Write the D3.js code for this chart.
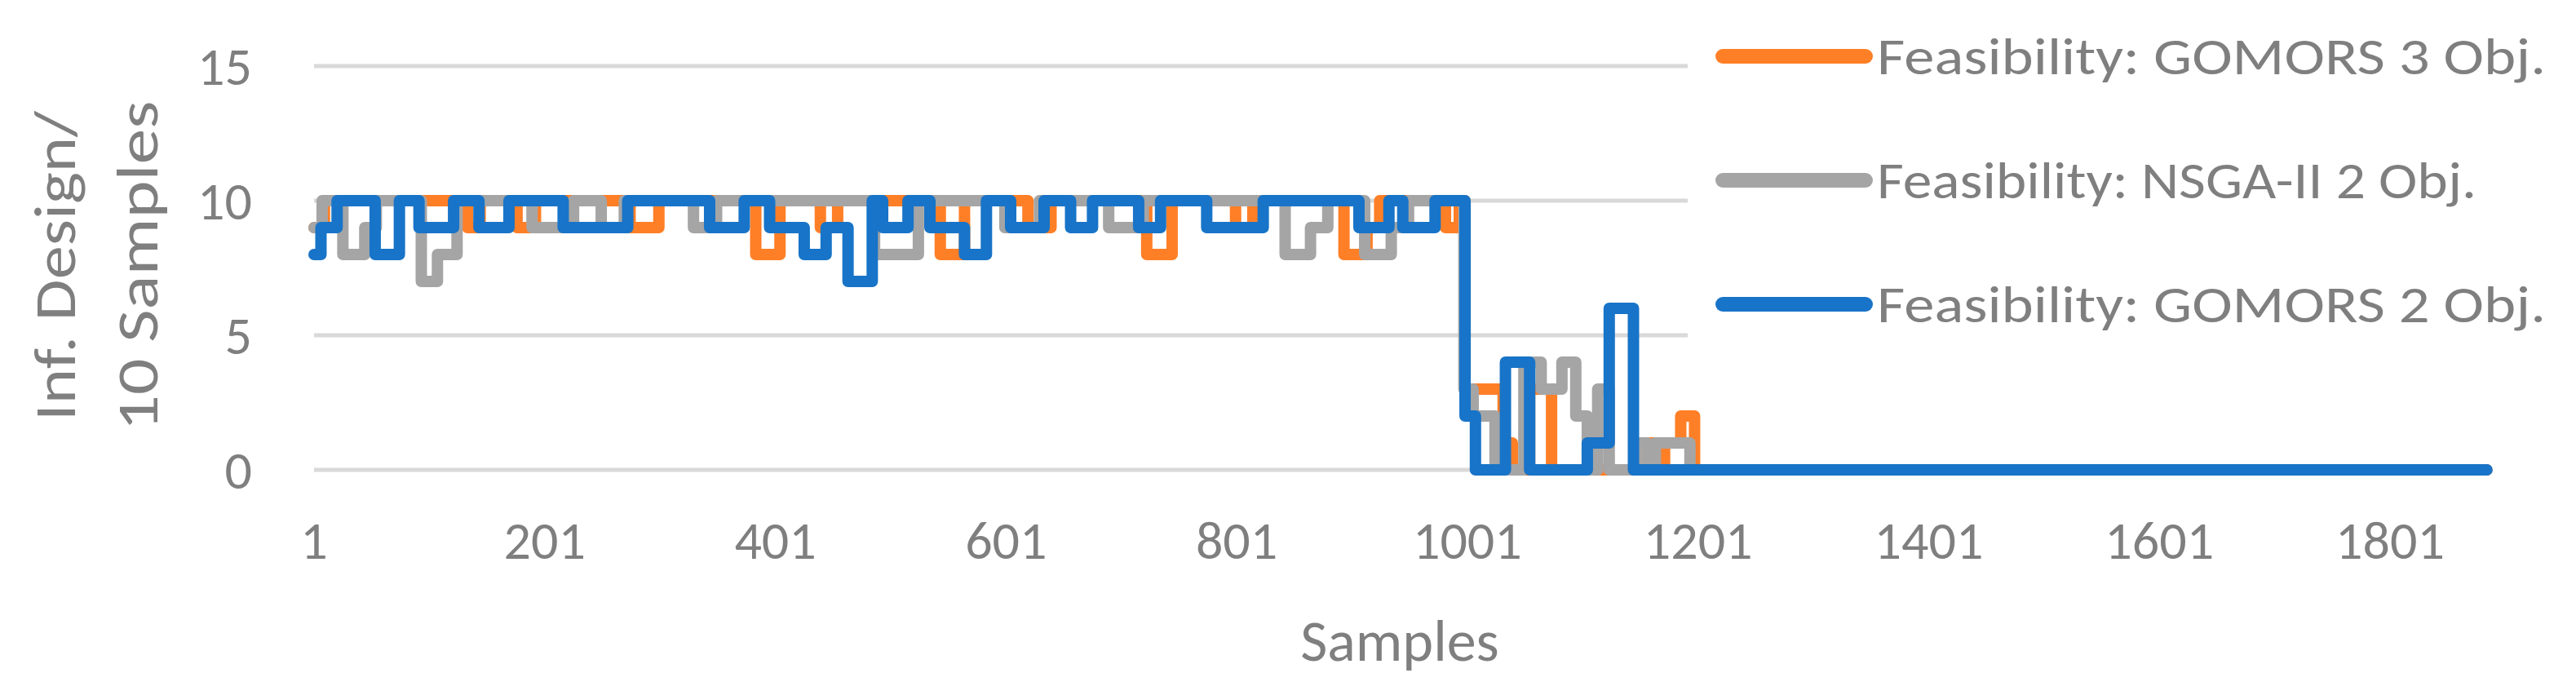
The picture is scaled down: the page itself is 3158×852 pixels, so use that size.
<!DOCTYPE html>
<html>
<head>
<meta charset="utf-8">
<script src="https://cdn.jsdelivr.net/npm/d3@7"></script>
<style>
  body { margin: 0; background: #fff; }
  text { font-family: Carlito, "Open Sans", sans-serif; fill: #7f7f7f; }
</style>
</head>
<body>
<svg id="chart" width="3158" height="852"></svg>
<script>
  // run-length series: [first sample, value]
  const gomors3Runs = [[1,9],[10,10],[134,9],[145,10],[177,9],[193,10],[275,9],[300,10],[384,8],[405,10],
    [440,9],[455,10],[544,8],[565,10],[620,9],[640,10],[723,8],[745,10],[800,9],[815,10],[894,8],[914,9],
    [925,10],[982,9],[994,10],[999,3],[1032,1],[1040,0],[1055,3],[1074,0],[1147,1],[1166,0],[1172,1],
    [1186,2],[1198,0]];
  const nsga2Runs = [[1,9],[8,10],[26,8],[45,9],[55,10],[94,7],[108,8],[125,10],[190,9],[226,10],[250,9],
    [270,10],[330,9],[350,10],[487,8],[525,10],[600,9],[630,10],[690,9],[720,10],[843,8],[865,9],[880,10],
    [912,8],[935,9],[950,10],[998,3],[1006,2],[1025,0],[1050,4],[1065,3],[1083,4],[1095,2],[1105,0],
    [1114,3],[1124,0],[1147,1],[1157,0],[1164,1],[1194,0]];
  const gomors2Runs = [[1,8],[7,9],[21,10],[54,8],[75,10],[92,9],[122,10],[144,9],[170,10],[217,9],[273,10],
    [344,9],[374,10],[396,9],[426,8],[445,9],[464,7],[485,10],[494,9],[516,10],[535,9],[565,8],[584,10],
    [605,9],[634,10],[657,9],[676,10],[716,9],[735,10],[775,9],[824,10],[907,9],[933,10],[945,9],[973,10],
    [999,2],[1008,0],[1034,4],[1055,0],[1105,1],[1124,6],[1145,0]];
  const lastSample = 1885;
  const seriesNames = ["Feasibility: GOMORS 3 Obj.", "Feasibility: NSGA-II 2 Obj.", "Feasibility: GOMORS 2 Obj."];
  const seriesColors = ["#ff7f27", "#a5a5a5", "#1874c8"];
  const xTicks = [1, 201, 401, 601, 801, 1001, 1201, 1401, 1601, 1801];
  const yTicks = [0, 5, 10, 15];

  const svg = d3.select("#chart");
  const x = d3.scaleLinear().domain([1, 1801]).range([385, 2930]);
  const y = d3.scaleLinear().domain([0, 15]).range([576, 81]);
  const gridRight = 2069;

  // gridlines
  svg.append("g").selectAll("line").data(yTicks).enter().append("line")
    .attr("x1", x(1)).attr("x2", gridRight)
    .attr("y1", d => y(d)).attr("y2", d => y(d))
    .attr("stroke", "#d9d9d9").attr("stroke-width", 5);

  svg.append("g").selectAll("text").data(yTicks).enter().append("text")
    .attr("x", 309).attr("y", d => y(d)).attr("dy", "0.35em")
    .attr("text-anchor", "end").attr("font-size", 66).text(d => d);

  svg.append("g").selectAll("text").data(xTicks).enter().append("text")
    .attr("x", d => x(d)).attr("y", 685)
    .attr("text-anchor", "middle").attr("font-size", 66).text(d => d);

  svg.append("text").attr("x", 1716).attr("y", 810).attr("text-anchor", "middle")
    .attr("font-size", 72).text("Samples");

  const yTitle = svg.append("g");
  [["Inf. Design/", 67, 380], ["10 Samples", 168, 405]].forEach(([t, cx, len]) => {
    yTitle.append("text").attr("transform", `translate(${cx},326) rotate(-90)`)
      .attr("text-anchor", "middle").attr("dominant-baseline", "central")
      .attr("font-size", 72).attr("textLength", len).attr("lengthAdjust", "spacingAndGlyphs").text(t);
  });

  function toPoints(runs) {
    const pts = runs.map(r => ({ s: r[0], v: r[1] }));
    pts.push({ s: lastSample, v: runs[runs.length - 1][1] });
    return pts;
  }

  const line = d3.line().curve(d3.curveStepAfter).x(d => x(d.s)).y(d => y(d.v));
  [gomors3Runs, nsga2Runs, gomors2Runs].forEach((runs, i) => {
    svg.append("path").datum(toPoints(runs))
      .attr("d", line).attr("fill", "none")
      .attr("stroke", seriesColors[i]).attr("stroke-width", 14)
      .attr("stroke-linejoin", "round").attr("stroke-linecap", "round");
  });

  // legend
  const legend = svg.append("g");
  seriesNames.forEach((name, i) => {
    const ly = 69 + i * 152;
    legend.append("line").attr("x1", 2112).attr("x2", 2287).attr("y1", ly).attr("y2", ly)
      .attr("stroke", seriesColors[i]).attr("stroke-width", 18).attr("stroke-linecap", "round");
    legend.append("text").attr("x", 2301).attr("y", ly + 22).attr("font-size", 64)
      .attr("textLength", i === 1 ? 735 : 820).attr("lengthAdjust", "spacingAndGlyphs").text(name);
  });
</script>
</body>
</html>
